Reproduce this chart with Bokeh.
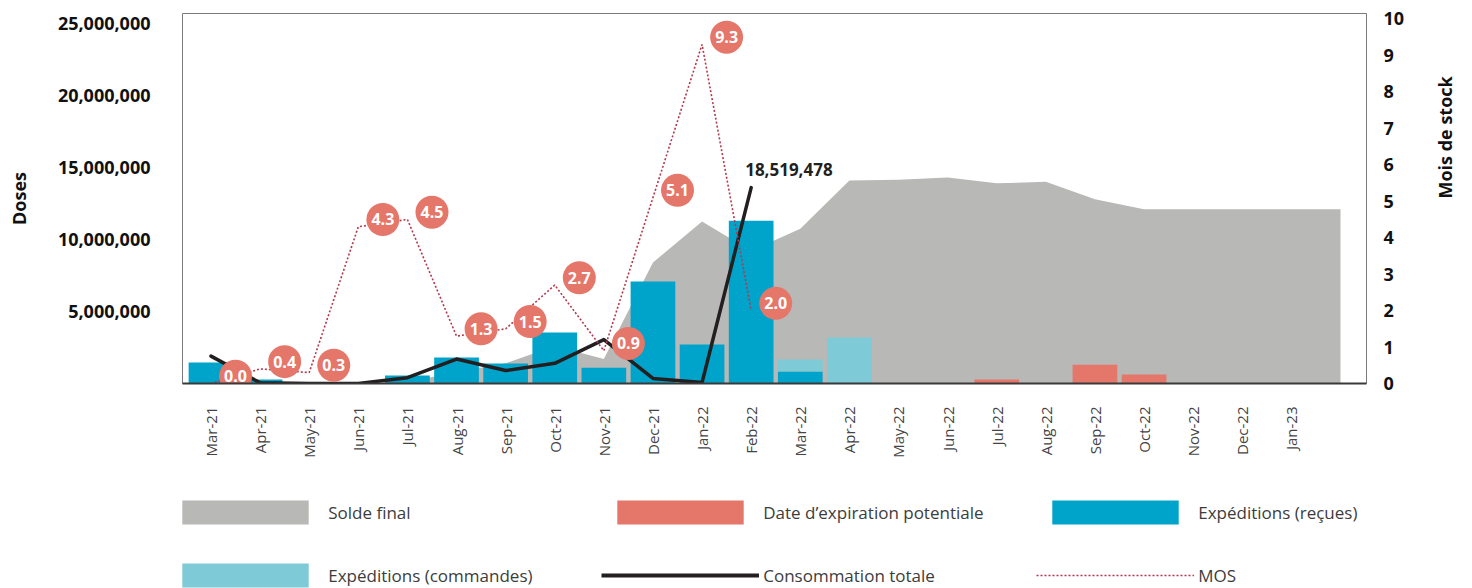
import math
from bokeh.plotting import figure
from bokeh.layouts import column
from bokeh.models import (Range1d, LinearAxis, FixedTicker, NumeralTickFormatter,
                          Legend, LegendItem)
from bokeh.core.properties import value
from bokeh.embed import file_html
from bokeh.resources import INLINE

# ---------------- data ----------------
months = ["Mar-21", "Apr-21", "May-21", "Jun-21", "Jul-21", "Aug-21", "Sep-21",
          "Oct-21", "Nov-21", "Dec-21", "Jan-22", "Feb-22", "Mar-22", "Apr-22",
          "May-22", "Jun-22", "Jul-22", "Aug-22", "Sep-22", "Oct-22", "Nov-22",
          "Dec-22", "Jan-23", "Feb-23"]
labelled_months = months[:23]

# values in millions of doses
solde_final = [0, 0, 0, 0, 0.1, 0.8, 1.4, 2.6, 1.7, 8.4, 11.25, 9.2, 10.75, 14.1,
               14.15, 14.3, 13.9, 14.0, 12.8, 12.1, 12.1, 12.1, 12.1, 12.1]
exp_recues = [1.46, 0.28, 0, 0, 0.55, 1.8, 1.39, 3.54, 1.1, 7.08, 2.7, 11.3, 0.83,
              0, 0, 0, 0, 0, 0, 0, 0, 0, 0, 0]
exp_commandes = [0, 0, 0, 0, 0, 0, 0, 0, 0, 0, 0, 0, 0.84, 3.2,
                 0, 0, 0, 0, 0, 0, 0, 0, 0, 0]
expiration = [0, 0, 0, 0, 0, 0, 0, 0, 0, 0, 0, 0, 0, 0,
              0, 0, 0.28, 0, 1.3, 0.62, 0, 0, 0, 0]
consommation = [1.9, 0.05, 0, 0, 0.4, 1.7, 0.9, 1.4, 3.05, 0.35, 0.07, 13.6]
consommation_label = "18,519,478"
mos = [0.0, 0.4, 0.3, 4.3, 4.5, 1.3, 1.5, 2.7, 0.9, 5.1, 9.3, 2.0]
mos_labels = ["0.0", "0.4", "0.3", "4.3", "4.5", "1.3", "1.5", "2.7", "0.9", "5.1", "9.3", "2.0"]

left_ticks = [5e6, 10e6, 15e6, 20e6, 25e6]
right_ticks = list(range(11))

legend_labels = ["Solde final", "Date d\u2019expiration potentiale",
                 "Exp\u00e9ditions (re\u00e7ues)", "Exp\u00e9ditions (commandes)",
                 "Consommation totale", "MOS"]

M = 1e6
GREY = "#B8B8B6"
SALMON = "#E5766A"
BLUE = "#00A3C9"
LIGHTBLUE = "#7FCAD7"
BLACK = "#231F20"
MOSRED = "#B3394F"

x_all = list(range(len(months)))

p = figure(width=1472, height=470, output_backend="svg", toolbar_location=None,
           x_range=Range1d(-0.58, 23.53), y_range=Range1d(0, 25.69e6),
           min_border_left=182, min_border_right=100, min_border_top=13,
           min_border_bottom=87)
p.extra_y_ranges = {"mos": Range1d(0, 10.15)}
p.outline_line_color = "#7a7a7a"
p.outline_line_width = 1
p.xgrid.visible = False
p.ygrid.visible = False

# area
p.varea(x=x_all, y1=[0] * len(x_all), y2=[v * M for v in solde_final], fill_color=GREY)

W = 0.91
def nz(vals, base=None):
    xs, tops, bots = [], [], []
    for i, v in enumerate(vals):
        if v > 0:
            b = base[i] if base else 0
            xs.append(i)
            bots.append(b * M)
            tops.append((b + v) * M)
    return xs, bots, tops

xs, b, t = nz(expiration)
p.vbar(x=xs, bottom=b, top=t, width=W, fill_color=SALMON, line_color=None)
xs, b, t = nz(exp_recues)
p.vbar(x=xs, bottom=b, top=t, width=W, fill_color=BLUE, line_color=None)
xs, b, t = nz(exp_commandes, exp_recues)
p.vbar(x=xs, bottom=b, top=t, width=W, fill_color=LIGHTBLUE, line_color=None)

# consumption line
xc = list(range(len(consommation)))
p.line(xc, [v * M for v in consommation], line_color=BLACK, line_width=3.5,
       line_join="round", line_cap="round")
p.text(x=[xc[-1]], y=[consommation[-1] * M], text=[consommation_label],
       x_offset=-6, y_offset=-12, text_align="left", text_baseline="bottom",
       text_font=value("Open Sans"), text_font_style="bold", text_font_size="17px",
       text_color=BLACK)

# MOS line
xm = list(range(len(mos)))
p.line(xm, mos, y_range_name="mos", line_color=MOSRED, line_width=1.6, line_dash="2 2")
bx = [i + 0.5 for i in xm]
by = [v + 0.2 for v in mos]
p.scatter(x=bx, y=by, y_range_name="mos", size=33, marker="circle",
          fill_color=SALMON, line_color=None)
p.text(x=bx, y=by, y_range_name="mos", text=mos_labels, text_align="center",
       text_baseline="middle", text_font=value("Open Sans"), text_font_style="bold",
       text_font_size="16px", text_color="white")

# axes
xa = p.xaxis[0]
xa.ticker = FixedTicker(ticks=list(range(len(labelled_months))))
xa.major_label_overrides = {i: m for i, m in enumerate(labelled_months)}
xa.major_label_orientation = math.pi / 2
xa.major_tick_line_color = None
xa.minor_tick_line_color = None
xa.axis_line_color = "#3a3a3a"
xa.axis_line_width = 2
xa.major_label_standoff = 17
xa.major_label_text_font = "Open Sans"
xa.major_label_text_font_size = "15px"
xa.major_label_text_color = "#444444"

ya = p.yaxis[0]
ya.ticker = FixedTicker(ticks=left_ticks)
ya.formatter = NumeralTickFormatter(format="0,0")
ya.major_tick_line_color = None
ya.minor_tick_line_color = None
ya.axis_line_color = None
ya.major_label_standoff = 26
ya.major_label_text_font = "Open Sans"
ya.major_label_text_font_style = "bold"
ya.major_label_text_font_size = "18px"
ya.major_label_text_color = "#111111"
ya.axis_label = "Doses"
ya.axis_label_standoff = 24
ya.axis_label_text_font = "Open Sans"
ya.axis_label_text_font_style = "bold"
ya.axis_label_text_font_size = "18px"
ya.axis_label_text_color = "#111111"

ra = LinearAxis(y_range_name="mos", ticker=FixedTicker(ticks=right_ticks))
ra.major_tick_line_color = None
ra.minor_tick_line_color = None
ra.axis_line_color = None
ra.major_label_standoff = 11
ra.major_label_text_font = "Open Sans"
ra.major_label_text_font_style = "bold"
ra.major_label_text_font_size = "18px"
ra.major_label_text_color = "#111111"
ra.axis_label = "Mois de stock"
ra.axis_label_standoff = 38
ra.axis_label_text_font = "Open Sans"
ra.axis_label_text_font_style = "bold"
ra.axis_label_text_font_size = "18px"
ra.axis_label_text_color = "#111111"
if "axis_label_orientation" in ra.properties():
    ra.axis_label_orientation = math.pi / 2
p.add_layout(ra, "right")

# ---------------- legend (separate strip below the chart) ----------------
lg = figure(width=1472, height=118, output_backend="svg", toolbar_location=None,
            x_axis_type=None, y_axis_type=None, x_range=Range1d(0, 1),
            y_range=Range1d(0, 1), min_border_left=182, min_border_right=100,
            min_border_top=0, min_border_bottom=0, outline_line_color=None)
# invisible proxy glyphs (outside the visible range) that carry the legend styles
g_area = lg.varea(x=[-10, -9], y1=[-10, -10], y2=[-9, -9], fill_color=GREY)
g_exp = lg.vbar(x=[-10], bottom=[-10], top=[-9], width=1, fill_color=SALMON, line_color=None)
g_rec = lg.vbar(x=[-10], bottom=[-10], top=[-9], width=1, fill_color=BLUE, line_color=None)
g_com = lg.vbar(x=[-10], bottom=[-10], top=[-9], width=1, fill_color=LIGHTBLUE, line_color=None)
g_cons = lg.line(x=[-10, -9], y=[-10, -10], line_color=BLACK, line_width=4)
g_mos = lg.line(x=[-10, -9], y=[-10, -10], line_color=MOSRED, line_width=1.6, line_dash="2 2")
rends = [g_area, g_exp, g_rec, g_com, g_cons, g_mos]
items = [LegendItem(label=lab, renderers=[r]) for lab, r in zip(legend_labels, rends)]
legend = Legend(items=items, location=(-15.8, -2), orientation="horizontal",
                ncols=3, glyph_width=158, glyph_height=30, label_standoff=4,
                label_width=240, label_height=30, spacing=33, padding=0, margin=0,
                border_line_alpha=0, background_fill_alpha=0,
                label_text_font="Open Sans", label_text_font_size="17px",
                label_text_color="#3c3c3c")
lg.add_layout(legend)

layout = column(p, lg, spacing=0)
open("out.html", "w").write(file_html(layout, INLINE))
